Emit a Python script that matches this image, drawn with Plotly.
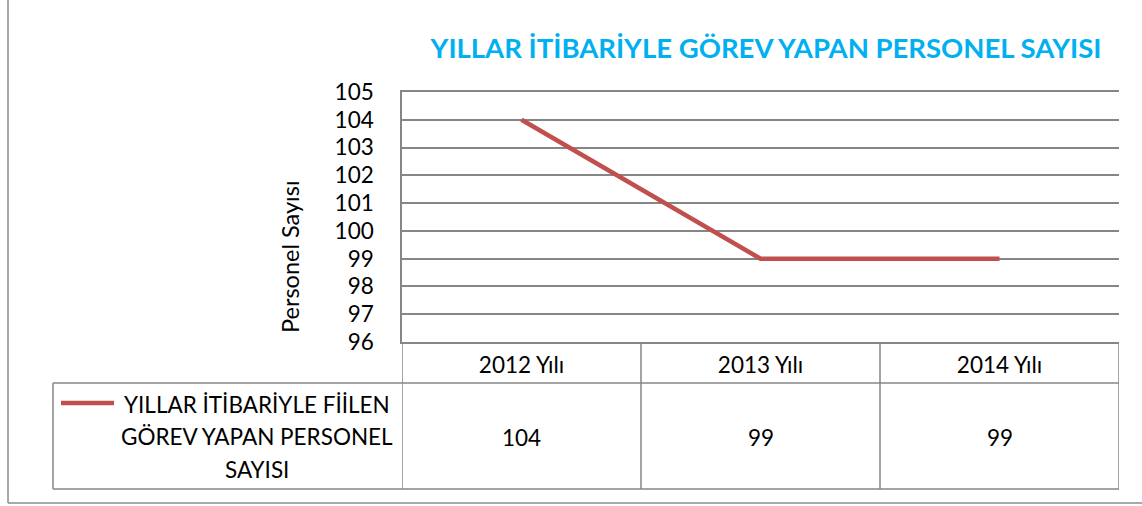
import plotly.graph_objects as go

categories = ["2012 Yılı", "2013 Yılı", "2014 Yılı"]
values = [104, 99, 99]
series_lines = ["YILLAR İTİBARİYLE FİİLEN", "GÖREV YAPAN PERSONEL", "SAYISI"]
title_text = "YILLAR İTİBARİYLE GÖREV YAPAN PERSONEL SAYISI"
y_title = "Personel Sayısı"
y_ticks = list(range(96, 106))

W, H = 1142, 506
FONT = "Lato"
GRID = "#868686"
RED = "#C0504D"
TXT = 22.5


def px(x):
    return x / W


def py(y):
    return 1 - y / H


fig = go.Figure()
fig.add_trace(go.Scatter(
    x=categories, y=values, mode="lines",
    line=dict(color=RED, width=4.5),
    showlegend=False, hoverinfo="skip",
))

shapes = []
line_style = dict(color=GRID, width=1.5)
# outer chart border (left and bottom visible)
shapes.append(dict(type="line", xref="paper", yref="paper",
                   x0=px(8), x1=px(8), y0=py(0), y1=py(503), line=dict(color="#8c8c8c", width=1.5)))
shapes.append(dict(type="line", xref="paper", yref="paper",
                   x0=px(8), x1=px(1142), y0=py(503), y1=py(503), line=dict(color="#8c8c8c", width=1.5)))
# data table grid
for yy in (383, 489):
    shapes.append(dict(type="line", xref="paper", yref="paper",
                       x0=px(53), x1=px(1119), y0=py(yy), y1=py(yy), line=line_style))
shapes.append(dict(type="line", xref="paper", yref="paper",
                   x0=px(53), x1=px(53), y0=py(383), y1=py(489), line=line_style))
for xb in [-0.5 + i for i in range(len(categories) + 1)]:
    shapes.append(dict(type="line", xref="x", yref="paper",
                       x0=xb, x1=xb, y0=py(342), y1=py(489), line=line_style))
# legend key
shapes.append(dict(type="line", xref="paper", yref="paper",
                   x0=px(61), x1=px(114), y0=py(403), y1=py(403),
                   line=dict(color=RED, width=4.5)))

annotations = []
for c, v in zip(categories, values):
    annotations.append(dict(x=c, xref="x", y=py(437), yref="paper", text=str(v),
                            showarrow=False, xanchor="center", yanchor="middle",
                            font=dict(family=FONT, size=TXT, color="#000")))
for i, t in enumerate(series_lines):
    annotations.append(dict(x=px(257), xref="paper", y=py(404 + 32.5 * i), yref="paper", text=t,
                            showarrow=False, xanchor="center", yanchor="middle",
                            font=dict(family=FONT, size=TXT, color="#000")))
annotations.append(dict(x=px(290), xref="paper", y=py(257), yref="paper", text=y_title,
                        textangle=-90, showarrow=False, xanchor="center", yanchor="middle",
                        font=dict(family=FONT, size=23.5, color="#000")))

fig.update_layout(
    template="none",
    width=W, height=H, autosize=False,
    margin=dict(l=0, r=0, t=0, b=0, pad=0, autoexpand=False),
    paper_bgcolor="white", plot_bgcolor="white",
    title=dict(text="<b>" + title_text + "</b>", x=px(766), xanchor="center",
               y=py(48), yanchor="middle", xref="paper", yref="paper",
               font=dict(family=FONT, size=27.5, color="#00B0F0")),
    xaxis=dict(type="category", domain=[px(402), px(1119)], range=[-0.5, 2.5],
               showgrid=False, showline=True, linecolor=GRID, linewidth=1.5, mirror=True,
               ticks="", ticklabelstandoff=2, automargin=False,
               tickfont=dict(family=FONT, size=TXT, color="#000")),
    yaxis=dict(domain=[py(342), py(92)], range=[96, 105], tickvals=y_ticks,
               showgrid=True, gridcolor=GRID, gridwidth=1.5,
               showline=True, linecolor=GRID, linewidth=1.5,
               ticks="", ticklabelstandoff=22, zeroline=False, automargin=False,
               tickfont=dict(family=FONT, size=22.5, color="#000")),
    shapes=shapes, annotations=annotations, showlegend=False,
)

fig.write_html("out.html", config={"displayModeBar": False},
               post_script="document.body.style.margin='0';document.body.style.overflow='hidden';")
